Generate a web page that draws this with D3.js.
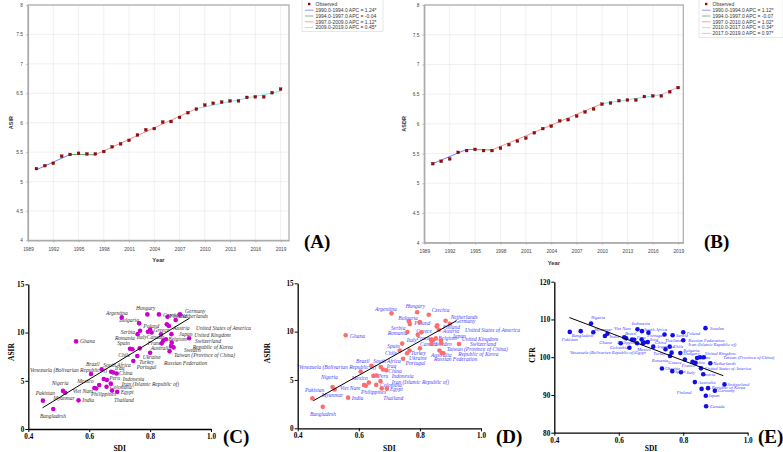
<!DOCTYPE html>
<html><head><meta charset="utf-8">
<script src="https://cdn.jsdelivr.net/npm/d3@7"></script>
<style>body{margin:0;background:#fff}svg{display:block}</style>
</head><body>
<svg id="chart" width="783" height="452"></svg>
<script>
// ---------------- DATA ----------------
const years = [1990,1991,1992,1993,1994,1995,1996,1997,1998,1999,2000,2001,2002,2003,2004,2005,2006,2007,2008,2009,2010,2011,2012,2013,2014,2015,2016,2017,2018,2019];
const asirObserved = [5.22,5.27,5.31,5.43,5.46,5.48,5.47,5.47,5.51,5.59,5.64,5.70,5.79,5.88,5.90,6.01,6.02,6.09,6.17,6.23,6.30,6.33,6.35,6.37,6.37,6.43,6.44,6.44,6.51,6.57];
const asdrObserved = [5.33,5.37,5.41,5.52,5.55,5.57,5.55,5.55,5.59,5.65,5.71,5.76,5.85,5.92,5.96,6.05,6.07,6.13,6.20,6.25,6.33,6.35,6.39,6.40,6.40,6.46,6.47,6.47,6.54,6.61];
// joinpoint segments: start year, end year, fitted value at start/end, APC text
const asirSegStart = [1990,1994,1997,2009];
const asirSegEnd   = [1994,1997,2009,2019];
const asirSegFit0  = [5.20,5.46,5.455,6.24];
const asirSegFit1  = [5.46,5.455,6.24,6.535];
const asirSegAPC   = ["1.24*","-0.04","1.12*","0.45*"];
const asdrSegStart = [1990,1994,1997,2010,2017];
const asdrSegEnd   = [1994,1997,2010,2017,2019];
const asdrSegFit0  = [5.33,5.57,5.56,6.34,6.49];
const asdrSegFit1  = [5.57,5.56,6.34,6.49,6.62];
const asdrSegAPC   = ["1.12*","-0.07","1.02*","0.34*","0.97*"];
const yearTicks = [1989,1992,1995,1998,2001,2004,2007,2010,2013,2016,2019];
const rateTicks = [4,4.5,5,5.5,6,6.5,7,7.5,8];

const countries = ["Pakistan","Bangladesh","Nigeria","Myanmar","Ghana","India","Venezuela (Bolivarian Republic of)","Viet Nam","Philippines","Mexico","Brazil","Peru","Indonesia","Colombia","Iran (Islamic Republic of)","South Africa","Iraq","China","Egypt","Thailand","Argentina","Chile","Portugal","Turkey","Ukraine","Romania","Bulgaria","Serbia","Spain","Hungary","Italy","Poland","Greece","Russian Federation","Czechia","France","Australia","Belgium","United Kingdom","United States of America","Finland","Austria","Taiwan (Province of China)","Sweden","Japan","Canada","Republic of Korea","Netherlands","Germany","Switzerland"];
const sdi  = [0.448,0.482,0.514,0.521,0.557,0.565,0.606,0.617,0.623,0.633,0.641,0.648,0.658,0.657,0.671,0.672,0.679,0.690,0.675,0.692,0.707,0.734,0.742,0.745,0.758,0.759,0.764,0.767,0.766,0.791,0.793,0.800,0.805,0.800,0.829,0.838,0.836,0.843,0.852,0.855,0.857,0.862,0.864,0.869,0.870,0.871,0.877,0.884,0.898,0.928];
const asir = [2.94,2.08,3.95,3.76,9.08,2.97,5.70,4.25,4.20,4.56,6.18,5.18,5.08,4.38,4.70,5.93,5.86,5.76,3.98,3.85,11.57,8.32,8.26,7.05,7.56,9.83,10.95,10.19,8.36,11.88,10.08,10.30,10.00,7.91,11.88,8.88,9.81,9.16,9.30,10.85,11.64,10.67,8.05,8.60,9.83,8.95,8.46,11.30,11.88,9.40];
const asdr = [3.10,2.22,4.28,4.02,9.62,3.17,5.88,4.48,4.41,4.73,6.47,5.42,5.46,4.49,4.88,6.34,6.09,6.00,4.13,4.10,11.89,8.05,8.76,7.20,7.77,9.95,11.07,10.78,8.05,12.00,9.68,10.98,9.94,8.27,11.74,8.75,9.16,9.14,9.30,10.53,10.66,10.19,8.05,9.08,8.83,7.79,7.77,11.12,10.82,8.72];
const cfr  = [106.7,106.9,108.9,106.6,105.6,106.2,103.7,105.3,105.0,102.5,104.7,104.6,107.4,103.7,104.7,106.9,103.9,104.0,103.7,106.5,102.8,97.0,106.0,102.1,102.8,100.3,101.2,105.8,96.3,101.1,96.0,106.6,99.4,104.5,98.8,98.5,93.4,99.8,100.0,97.05,91.6,95.5,100.0,107.7,89.8,87.0,91.8,98.4,91.1,92.8];
// fitted regression lines (end points)
const fitSdi  = [[0.447,0.930],[0.451,0.920],[0.447,0.924]];
const fitAsir = [2.2,11.5];
const fitAsdr = [2.85,11.13];
const fitCfr  = [110.5,95.1];
const sdiTicks = [0.4,0.6,0.8,1.0];

// ---------------- LAYOUT (label offsets in px, not data) ----------------
const offC = {"Pakistan":[-7.2,-7.9],"Bangladesh":[-13.3,7.1],"Nigeria":[-11.3,-7.6],"Myanmar":[-11.8,5],"Ghana":[3.9,0],"India":[3.8,0],"Venezuela (Bolivarian Republic of)":[-61,-4],"Viet Nam":[-21.7,3],"Philippines":[-5.2,5.8],"Mexico":[-22,-4.3],"Brazil":[-15.7,-5],"Peru":[5.5,-0.7],"Indonesia":[15.8,-1],"Colombia":[3.4,0],"Iran (Islamic Republic of)":[10.9,0],"South Africa":[-7.8,-6.8],"Iraq":[1.7,-4.5],"China":[2.4,-0.7],"Egypt":[8.7,1.7],"Thailand":[-3.2,8.2],"Argentina":[-15.8,-4.1],"Chile":[-11.7,6.3],"Portugal":[4.3,18],"Turkey":[5.9,1],"Ukraine":[5.4,1],"Romania":[-22.6,4.2],"Bulgaria":[-19.8,-3.3],"Serbia":[-19.4,1.3],"Spain":[-22.4,-5],"Hungary":[-11.4,-6.1],"Italy":[-11.3,5.6],"Poland":[-6.8,-3.6],"Greece":[2,-2.5],"Russian Federation":[13.9,10.6],"Czechia":[4.1,0.9],"France":[-14,-0.6],"Australia":[-10.4,14],"Belgium":[5.1,-1.9],"United Kingdom":[28.4,-4.3],"United States of America":[29.2,3.4],"Finland":[2,-1],"Austria":[4.3,1.7],"Taiwan (Province of China)":[4.4,3.7],"Sweden":[12.9,4],"Japan":[7.6,0.2],"Canada":[-25,-5.3],"Republic of Korea":[19.2,-0.4],"Netherlands":[5.3,-4.3],"Germany":[5.1,-3.4],"Switzerland":[5.9,2.4]};
const offD = {"Pakistan":[-7.4,-8.3],"Bangladesh":[-12.8,7.2],"Nigeria":[-11.5,-10.2],"Myanmar":[-13,5.6],"Ghana":[4.3,0.7],"India":[3.6,0],"Venezuela (Bolivarian Republic of)":[-61.6,-4.7],"Viet Nam":[-24,2.7],"Philippines":[-4.8,6.6],"Mexico":[-17.2,-4.3],"Brazil":[-15.3,-5],"Peru":[4.2,-0.2],"Indonesia":[15.2,0.2],"Colombia":[3.8,0.1],"Iran (Islamic Republic of)":[11.2,0.6],"South Africa":[-7.5,-6],"Iraq":[3.8,-3.4],"China":[2,0.4],"Egypt":[8.3,0.9],"Thailand":[-3.6,9],"Argentina":[-16.5,-4],"Chile":[-14.7,2.2],"Portugal":[3.5,19.7],"Turkey":[7.9,-6],"Ukraine":[1.9,5.1],"Romania":[-19.7,1.2],"Bulgaria":[-10.6,-2.9],"Serbia":[-18.8,3.6],"Spain":[-22.2,-4.5],"Hungary":[-11.5,-6.3],"Italy":[-11.1,5.3],"Poland":[-5.6,1.2],"Greece":[-5.1,-1.5],"Russian Federation":[14.1,11],"Czechia":[2.9,-4.5],"France":[-14.8,-5.4],"Australia":[0.1,15.3],"Belgium":[5.3,-1.6],"United Kingdom":[25.9,0.6],"United States of America":[28.3,3.5],"Finland":[5.4,1.5],"Austria":[4,1],"Taiwan (Province of China)":[7.2,-1.5],"Sweden":[-6,3.8],"Japan":[11,-6.9],"Canada":[-21.6,-8.7],"Republic of Korea":[14.9,0.8],"Netherlands":[5.1,-3.5],"Germany":[5.2,-3],"Switzerland":[11,0.3]};
const offE = {"Pakistan":[-8.1,7.4],"Bangladesh":[-9,4.5],"Nigeria":[0,-6.3],"Myanmar":[1,-3.3],"Ghana":[-5.6,6.6],"India":[2,2.2],"Venezuela (Bolivarian Republic of)":[-50.7,9.1],"Viet Nam":[-10.2,-8.9],"Philippines":[-8.9,4.4],"Mexico":[7.9,1.5],"Brazil":[-7,-6.2],"Peru":[2.5,-2.1],"Indonesia":[-5.8,-6],"Colombia":[-27.1,4.5],"Iran (Islamic Republic of)":[46.7,4.8],"South Africa":[2,-1.5],"Iraq":[5.8,-3.2],"China":[7.2,0.6],"Egypt":[-7.9,9.5],"Thailand":[16.6,7.3],"Argentina":[3,0],"Chile":[11.3,-21.8],"Portugal":[-17.2,0.7],"Turkey":[-12.2,4],"Ukraine":[-4.7,21.7],"Romania":[-18.3,3.9],"Bulgaria":[11.7,-2.7],"Serbia":[3.4,0],"Spain":[2.7,0.5],"Hungary":[3,0.3],"Italy":[5.7,0.4],"Poland":[3.5,1],"Greece":[-16.5,2.5],"Russian Federation":[5.1,-0.2],"Czechia":[-2.6,0.3],"France":[-13.8,2.1],"Australia":[3.5,0.2],"Belgium":[-2,-0.6],"United Kingdom":[5,-3.9],"United States of America":[4.1,0],"Finland":[-24.9,3.1],"Austria":[-1.5,0.1],"Taiwan (Province of China)":[19.4,0.1],"Sweden":[4.5,0.2],"Japan":[2.5,0],"Canada":[3.9,0.4],"Republic of Korea":[3.7,-0.5],"Netherlands":[3,0],"Germany":[3,0],"Switzerland":[3,-0.4]};

const svg = d3.select("#chart");
const SANS = "'Liberation Sans', Arial, sans-serif";
const SERIF = "'Liberation Serif', 'Times New Roman', serif";
const segColors = ["#7b7bf5","#64a664","#ff8a8a","#7fe9df","#e9a5ee"];

// ---------------- TREND PANELS ----------------
function trendPanel(o){
  const g = svg.append("g");
  const x = d3.scaleLinear().domain(o.xDom).range([o.x0,o.x1]);
  const y = d3.scaleLinear().domain([4,8]).range([o.y1,o.y0]);
  // grid
  g.selectAll(".gy").data(rateTicks).join("line")
    .attr("x1",o.x0).attr("x2",o.x1).attr("y1",d=>y(d)).attr("y2",d=>y(d))
    .attr("stroke","#e9e9e9").attr("stroke-width",0.7);
  g.selectAll(".gx").data(yearTicks).join("line")
    .attr("x1",d=>x(d)).attr("x2",d=>x(d)).attr("y1",o.y0).attr("y2",o.y1)
    .attr("stroke","#e9e9e9").attr("stroke-width",0.7);
  // axes
  const ax = g.append("g").attr("transform",`translate(0,${o.y1})`)
    .call(d3.axisBottom(x).tickValues(yearTicks).tickFormat(d3.format("d")).tickSize(2).tickSizeOuter(0));
  const ay = g.append("g").attr("transform",`translate(${o.x0},0)`)
    .call(d3.axisLeft(y).tickValues(rateTicks).tickFormat(d=>String(d)).tickSize(2).tickSizeOuter(0));
  [ax,ay].forEach(a=>{
    a.select(".domain").attr("stroke","#aaa").attr("stroke-width",1.2);
    a.selectAll(".tick line").attr("stroke","#999").attr("stroke-width",0.6);
    a.selectAll("text").attr("font-family",SANS).attr("font-size",4.8).attr("fill","#444");
  });
  ax.selectAll("text").attr("dy","1.2em");
  // frame
  g.append("rect").attr("x",o.x0).attr("y",o.y0).attr("width",o.x1-o.x0).attr("height",o.y1-o.y0)
    .attr("fill","none").attr("stroke","#aaa").attr("stroke-width",1.2);
  // segments
  o.segStart.forEach((s,i)=>{
    g.append("line").attr("x1",x(s)).attr("y1",y(o.fit0[i])).attr("x2",x(o.segEnd[i])).attr("y2",y(o.fit1[i]))
      .attr("stroke",segColors[i]).attr("stroke-width",1);
  });
  // observed
  g.selectAll(".pt").data(years).join("rect")
    .attr("x",(d)=>x(d)-1.4).attr("y",(d,i)=>y(o.obs[i])-1.4).attr("width",2.8).attr("height",2.8)
    .attr("fill","#9b0a0a").attr("stroke","#5a0000").attr("stroke-width",0.3);
  // titles
  g.append("text").attr("transform",`translate(${o.ylx},${(o.y0+o.y1)/2}) rotate(-90)`)
    .attr("text-anchor","middle").attr("font-family",SANS).attr("font-weight","bold").attr("font-size",5.5).attr("fill","#333").text(o.yTitle);
  g.append("text").attr("x",(o.x0+o.x1)/2).attr("y",o.y1+22).attr("text-anchor","middle")
    .attr("font-family",SANS).attr("font-weight","bold").attr("font-size",5.8).attr("fill","#333").text("Year");
  // legend
  const n = o.segStart.length;
  const lg = g.append("g");
  lg.append("rect").attr("x",o.lx).attr("y",-1).attr("width",o.lw).attr("height",9+n*5.9)
    .attr("fill","#fff").attr("stroke","#ddd").attr("stroke-width",0.7);
  lg.append("rect").attr("x",o.lx+6).attr("y",2.8).attr("width",2.4).attr("height",2.4).attr("fill","#9b0a0a");
  lg.append("text").attr("x",o.lx+13.5).attr("y",5.8).attr("font-family",SANS).attr("font-size",5).attr("fill","#333").text("Observed");
  o.segStart.forEach((s,i)=>{
    const yy = 10.2 + i*5.8;
    lg.append("line").attr("x1",o.lx+3).attr("x2",o.lx+11.5).attr("y1",yy).attr("y2",yy).attr("stroke",segColors[i]).attr("stroke-width",0.8);
    lg.append("text").attr("x",o.lx+13.5).attr("y",yy+1.7).attr("font-family",SANS).attr("font-size",5).attr("fill","#333")
      .text(`${s}.0-${o.segEnd[i]}.0 APC = ${o.apc[i]}`);
  });
  g.append("text").attr("x",o.tagX).attr("y",248).attr("font-family",SERIF).attr("font-weight","bold").attr("font-size",19).attr("fill","#000").text(o.tag);
}
trendPanel({x0:28,x1:289,y0:5,y1:240.4,xDom:[1989,2020],obs:asirObserved,segStart:asirSegStart,segEnd:asirSegEnd,fit0:asirSegFit0,fit1:asirSegFit1,apc:asirSegAPC,yTitle:"ASIR",ylx:13,lx:302,lw:81,tag:"(A)",tagX:304});
trendPanel({x0:424.3,x1:683.3,y0:5,y1:242.7,xDom:[1989,2019.6],obs:asdrObserved,segStart:asdrSegStart,segEnd:asdrSegEnd,fit0:asdrSegFit0,fit1:asdrSegFit1,apc:asdrSegAPC,yTitle:"ASDR",ylx:406,lx:699,lw:84,tag:"(B)",tagX:704});

// ---------------- SCATTER PANELS ----------------
function scatterPanel(o){
  const g = svg.append("g");
  const x = d3.scaleLinear().domain([0.4,1.0]).range([o.x0,o.x1]);
  const y = d3.scaleLinear().domain(o.yDom).range([o.y1,o.y0]);
  const ax = g.append("g").attr("transform",`translate(0,${o.y1})`)
    .call(d3.axisBottom(x).tickValues(sdiTicks).tickFormat(d3.format(".1f")).tickSize(3).tickSizeOuter(0));
  const ay = g.append("g").attr("transform",`translate(${o.x0},0)`)
    .call(d3.axisLeft(y).tickValues(o.yTicks).tickFormat(d3.format("d")).tickSize(3).tickSizeOuter(0));
  [ax,ay].forEach(a=>{
    a.select(".domain").attr("stroke","#000").attr("stroke-width",1.3);
    a.selectAll(".tick line").attr("stroke","#000").attr("stroke-width",1);
    a.selectAll("text").attr("font-family",SERIF).attr("font-weight","bold").attr("font-size",7.2).attr("fill","#000");
  });
  ay.selectAll("text").attr("x",-4);
  ax.selectAll("text").attr("y",5);
  // labels
  const idx = countries.map((c,i)=>i);
  g.selectAll(".lab").data(idx).join("text")
    .attr("x",i=>x(sdi[i])+o.off[countries[i]][0])
    .attr("y",i=>y(o.vals[i])+o.off[countries[i]][1]+o.fs*0.35)
    .attr("font-family",SERIF).attr("font-style","italic").attr("font-size",o.fs).attr("fill",o.labColor)
    .text(i=>countries[i]);
  // points
  g.selectAll(".pt").data(idx).join("circle")
    .attr("cx",i=>x(sdi[i])).attr("cy",i=>y(o.vals[i])).attr("r",2.3).attr("fill",o.ptColor);
  // regression line
  g.append("line").attr("x1",x(o.fitX[0])).attr("y1",y(o.fitY[0])).attr("x2",x(o.fitX[1])).attr("y2",y(o.fitY[1]))
    .attr("stroke","#000").attr("stroke-width",1);
  g.append("text").attr("transform",`translate(${o.ylx},${o.yly}) rotate(-90)`).attr("text-anchor","middle")
    .attr("font-family",SERIF).attr("font-weight","bold").attr("font-size",7.5).text(o.yTitle);
  g.append("text").attr("x",(o.x0+o.x1)/2).attr("y",451).attr("text-anchor","middle")
    .attr("font-family",SERIF).attr("font-weight","bold").attr("font-size",7.5).text("SDI");
  g.append("text").attr("x",o.tagX).attr("y",443).attr("font-family",SERIF).attr("font-weight","bold").attr("font-size",19).text(o.tag);
}
scatterPanel({x0:28.3,x1:211,y0:284.3,y1:429,yDom:[0,15],yTicks:[0,5,10,15],vals:asir,off:offC,fs:5.5,labColor:"#333",ptColor:"#cc00cc",fitX:fitSdi[0],fitY:fitAsir,yTitle:"ASIR",ylx:14,yly:352,tag:"(C)",tagX:223});
scatterPanel({x0:297.7,x1:481,y0:283.3,y1:428.3,yDom:[0,15],yTicks:[0,5,10,15],vals:asdr,off:offD,fs:5.5,labColor:"#4646ff",ptColor:"#fa6e6e",fitX:fitSdi[1],fitY:fitAsdr,yTitle:"ASDR",ylx:270,yly:353,tag:"(D)",tagX:496});
scatterPanel({x0:554.3,x1:747.7,y0:281.7,y1:432.7,yDom:[80,120],yTicks:[80,90,100,110,120],vals:cfr,off:offE,fs:4.6,labColor:"#3c3cff",ptColor:"#1010e6",fitX:fitSdi[2],fitY:fitCfr,yTitle:"CFR",ylx:535,yly:355,tag:"(E)",tagX:758});
</script>
</body></html>
